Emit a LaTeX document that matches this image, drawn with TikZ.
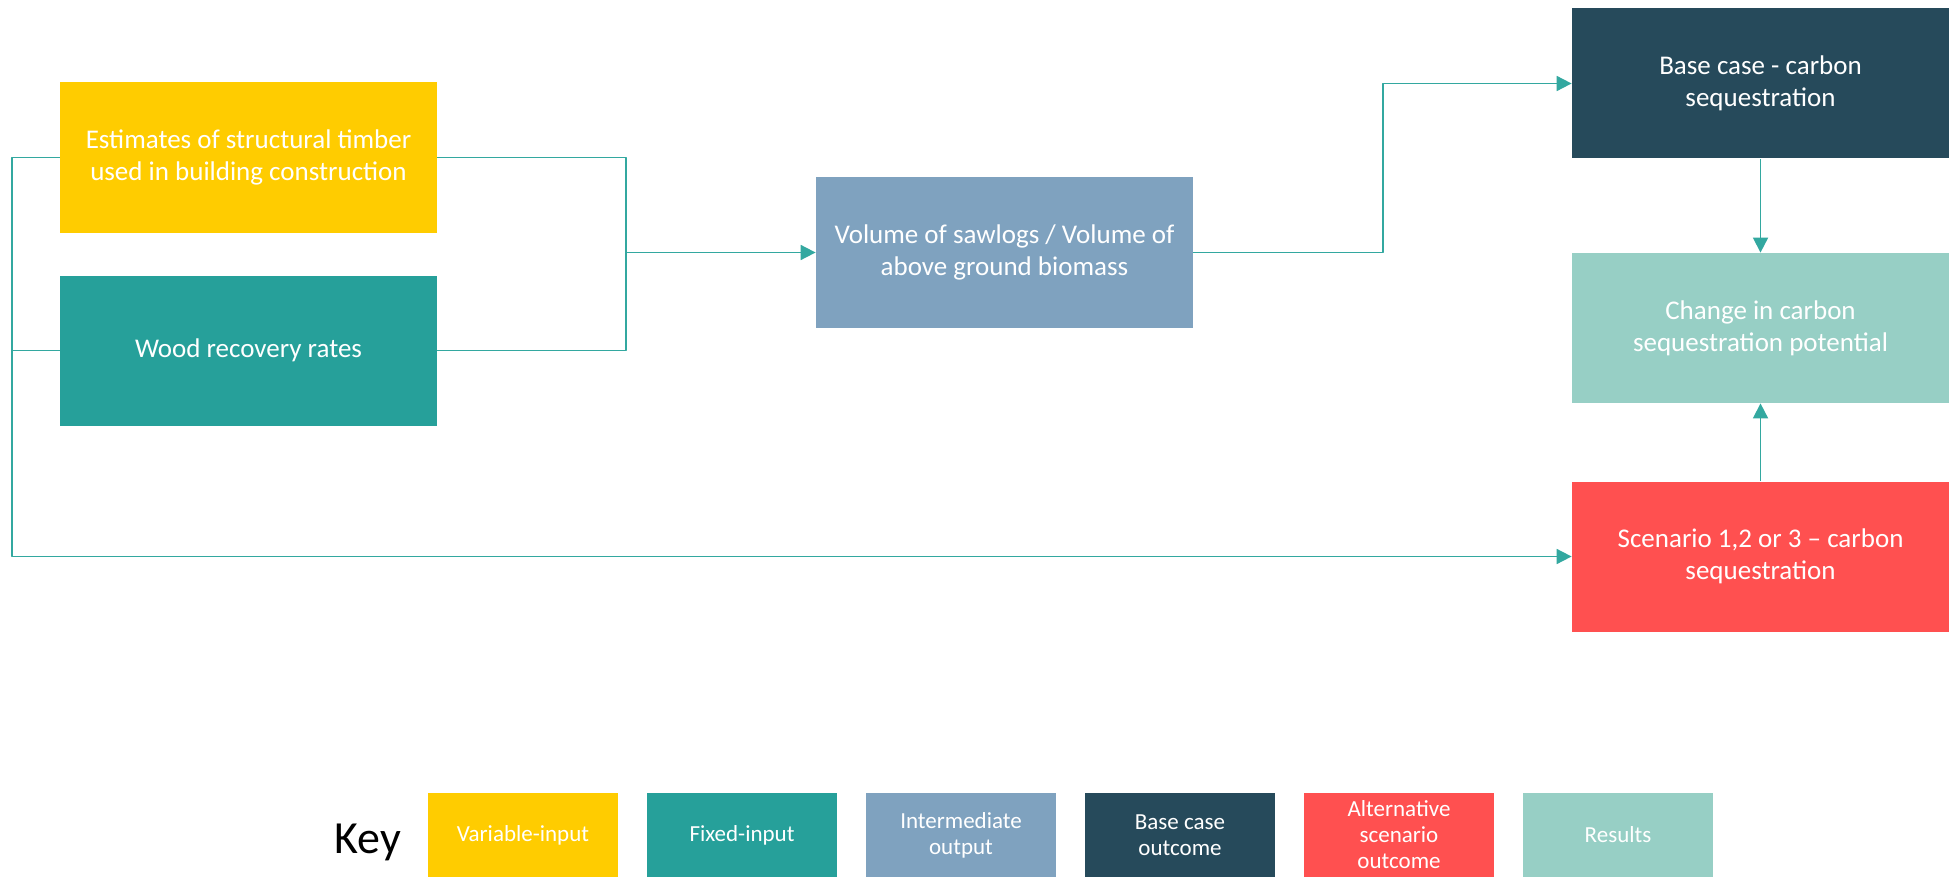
\documentclass[tikz,border=0pt]{standalone}
\usepackage{fontspec}
\setmainfont{Carlito}
\usetikzlibrary{arrows.meta}
\definecolor{varin}{HTML}{FFCC00}
\definecolor{fixin}{HTML}{26A09A}
\definecolor{inter}{HTML}{7FA2BF}
\definecolor{basec}{HTML}{264A5B}
\definecolor{altsc}{HTML}{FF5050}
\definecolor{resul}{HTML}{97CFC5}
\definecolor{linkc}{HTML}{33A8A0}
\begin{document}
\begin{tikzpicture}[x=.5pt,y=-.5pt,line join=round,>={Triangle[length=7.5pt,width=7.5pt]},
	box/.style={rectangle,fill=#1,text=white,align=center,minimum width=188.5pt,minimum height=75pt,inner sep=2pt,font=\fontsize{13.5}{16}\selectfont},
	keybox/.style={rectangle,fill=#1,text=white,align=center,minimum width=95pt,minimum height=42pt,inner sep=1pt,font=\fontsize{11.5}{13}\selectfont},
	link/.style={draw=linkc,line width=.9pt}]
	\useasboundingbox (0,0) rectangle (1957,877);
	\node[box=varin] (est) at (248.5,157.5) {Estimates of structural timber\\used in building construction};
	\node[box=fixin] (wood) at (248.5,350.5) {Wood recovery rates};
	\node[box=inter] (vol) at (1004.5,252.5) {Volume of sawlogs / Volume of\\above ground biomass};
	\node[box=basec] (base) at (1760.5,83.5) {Base case - carbon\\sequestration};
	\node[box=resul] (change) at (1760.5,328) {Change in carbon\\sequestration potential};
	\node[box=altsc] (scen) at (1760.5,556.5) {Scenario 1,2 or 3 -- carbon\\sequestration};
	\coordinate (split) at (626,252.5);
	\coordinate (rise) at (1383,252.5);
	\coordinate (left) at (12,350.5);
	\draw[link] (est.east) -| (split) |- (wood.east);
	\draw[link,->] (split) -- (vol.west);
	\draw[link,->] (vol.east) -- (rise) |- (base.west);
	\draw[link,->] (est.west) -| (left) |- (scen.west);
	\draw[link] (wood.west) -- (left);
	\draw[link,->] (base) -- (change);
	\draw[link,->] (scen) -- (change);
	\node[font=\fontsize{23}{28}\selectfont] (keylbl) at (368,842) {Key};
	\foreach \c/\t [count=\i] in {varin/Variable-input,fixin/Fixed-input,inter/Intermediate\\output,basec/Base case\\outcome,altsc/Alternative\\scenario\\outcome,resul/Results}
		\node[keybox=\c] (key\i) at (304+219*\i,835) {\t};
\end{tikzpicture}
\end{document}
